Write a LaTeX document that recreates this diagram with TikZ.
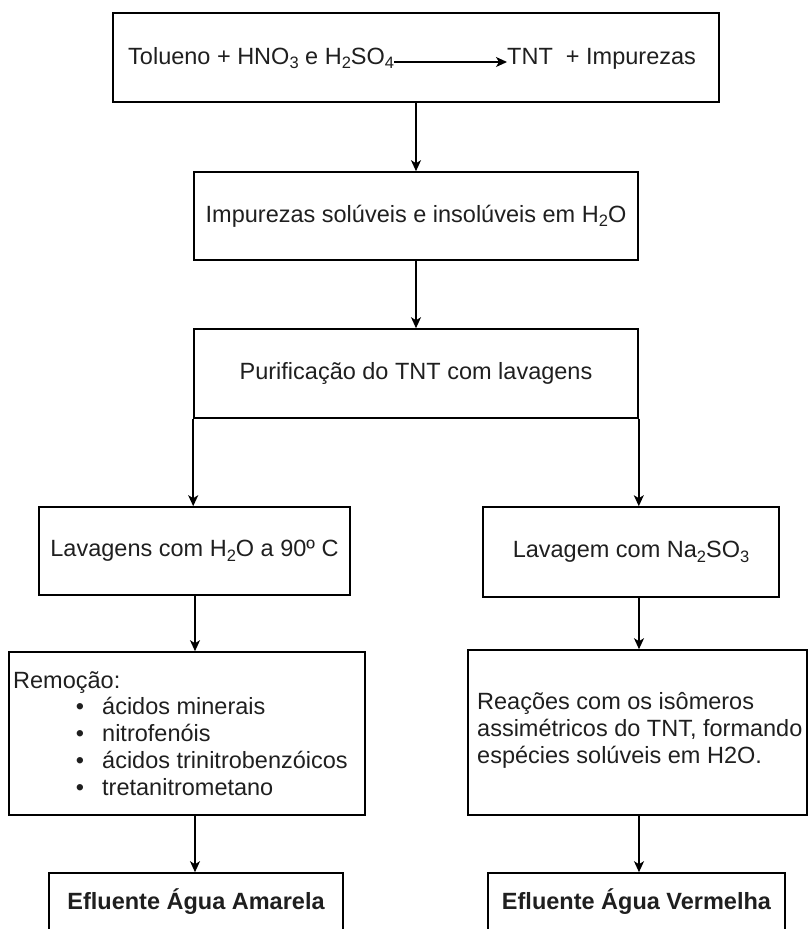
\documentclass[tikz,border=0pt]{standalone}
\usepackage{fontspec}
\setmainfont{Liberation Sans}
\usetikzlibrary{arrows.meta}
\newcommand\subs[1]{\raisebox{-4.5pt}{\fontsize{16.5}{16.5}\selectfont #1}}
\begin{document}
\begin{tikzpicture}[x=1pt,y=-1pt,
  box/.style={draw=black, line width=1.6pt, rectangle, inner sep=0pt, font=\fontsize{23.5}{27}\selectfont, align=center, text=black!88},
  txt/.style={inner sep=0pt, font=\fontsize{23.5}{27}\selectfont, text=black!88},
  conn/.style={line width=1.5pt, -{Stealth[length=11pt,width=10pt,inset=3pt]}}]
\useasboundingbox (0,0) rectangle (808,929);
\clip (0,0) rectangle (808,929);
% boxes
\node[box, minimum width=606pt, minimum height=89pt] (B1) at (416,57.5) {};
\node[txt, anchor=base west] (r1) at (128,64) {Tolueno + HNO\subs{3} e H\subs{2}SO\subs{4}};
\node[txt, anchor=base west] (r2) at (507,64) {TNT\ \ + Impurezas};
\draw[conn] ([yshift=2pt]r1.base east) -- ([yshift=2pt]r2.base west);

\node[box, minimum width=444pt, minimum height=88pt] (B2) at (416,216) {Impurezas solúveis e insolúveis em H\subs{2}O};
\node[box, minimum width=444pt, minimum height=89pt] (B3) at (416,373.5) {Purificação do TNT com lavagens};
\node[box, minimum width=311pt, minimum height=88pt] (B4L) at (194.5,551) {Lavagens com H\subs{2}O a 90º C};
\node[box, minimum width=296pt, minimum height=90pt] (B4R) at (631,552) {Lavagem com Na\subs{2}SO\subs{3}};
\node[box, minimum width=356pt, minimum height=163pt] (B5L) at (187,733.5) {};
\node[box, minimum width=339pt, minimum height=165pt] (B5R) at (637.5,732.5) {};
\node[box, minimum width=294pt, minimum height=58pt] (B6L) at (196,902) {\bfseries Efluente Água Amarela};
\node[box, minimum width=297pt, minimum height=58pt] (B6R) at (636.5,902) {\bfseries Efluente Água Vermelha};

% left list
\node[txt, anchor=base west] (rm0) at (13,688) {Remoção:};
\node[txt, anchor=base] (bu1) at (80,714) {•};
\node[txt, anchor=base west] (rm1) at (102,714) {ácidos minerais};
\node[txt, anchor=base] (bu2) at (80,741) {•};
\node[txt, anchor=base west] (rm2) at (102,741) {nitrofenóis};
\node[txt, anchor=base] (bu3) at (80,768) {•};
\node[txt, anchor=base west] (rm3) at (102,768) {ácidos trinitrobenzóicos};
\node[txt, anchor=base] (bu4) at (80,795) {•};
\node[txt, anchor=base west] (rm4) at (102,795) {tretanitrometano};

% right text
\node[txt, anchor=base west] (rr1) at (477,709) {Reações com os isômeros};
\node[txt, anchor=base west] (rr2) at (477,736) {assimétricos do TNT, formando};
\node[txt, anchor=base west] (rr3) at (477,763) {espécies solúveis em H2O.};

% connectors
\coordinate (cl) at (195,0);
\coordinate (cr) at (639,0);
\draw[conn] (B1.south) -- (B2.north);
\draw[conn] (B2.south) -- (B3.north);
\draw[conn] (B3.south west) -- (B3.south west |- B4L.north);
\draw[conn] (B3.south east) -- (B3.south east |- B4R.north);
\draw[conn] (B4L.south -| cl) -- (B5L.north -| cl);
\draw[conn] (B5L.south -| cl) -- (B6L.north -| cl);
\draw[conn] (B4R.south -| cr) -- (B5R.north -| cr);
\draw[conn] (B5R.south -| cr) -- (B6R.north -| cr);
\end{tikzpicture}
\end{document}
